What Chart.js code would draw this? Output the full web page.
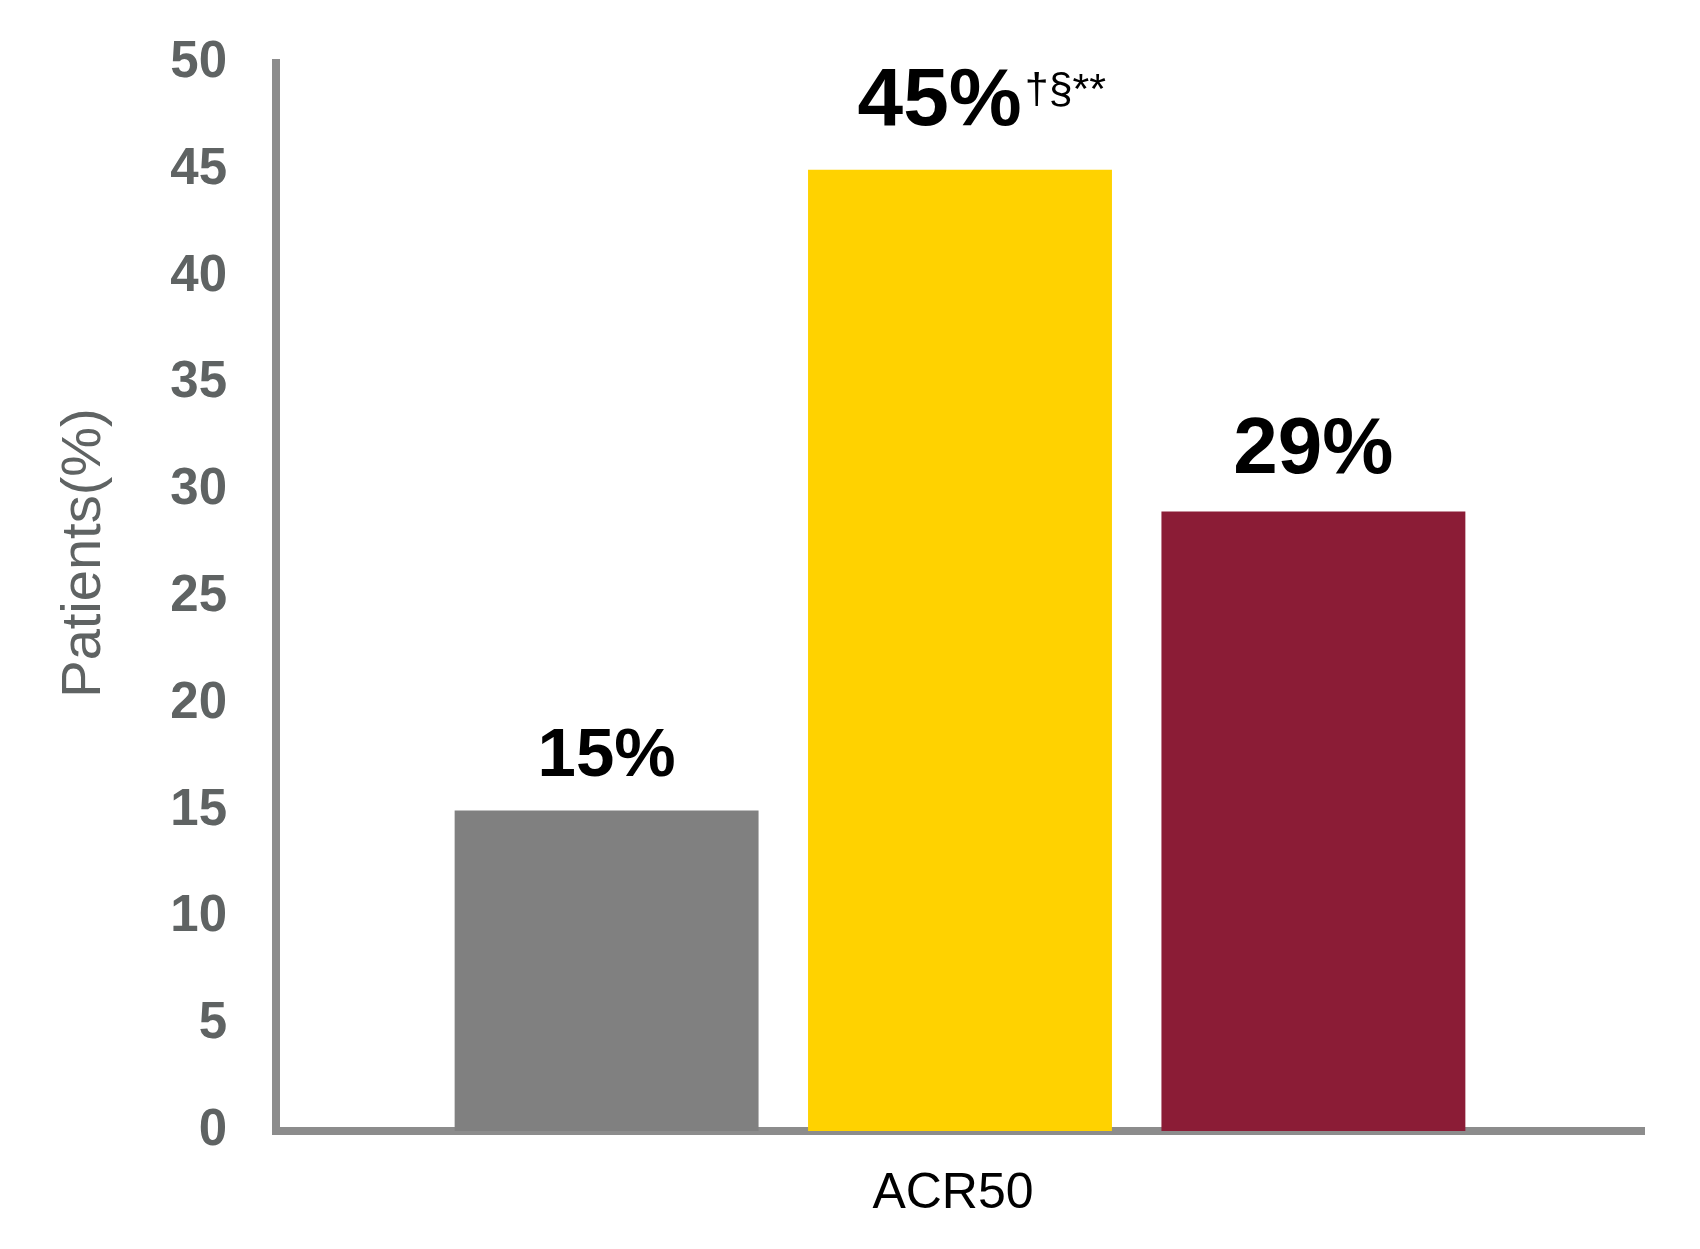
<!DOCTYPE html>
<html>
<head>
<meta charset="utf-8">
<script src="https://cdn.jsdelivr.net/npm/chart.js@4.4.1/dist/chart.umd.min.js"></script>
<style>
  html, body { margin: 0; padding: 0; background: #fff; }
  canvas { display: block; }
</style>
</head>
<body>
<canvas id="grafico" width="1700" height="1249"></canvas>
<script>
// dados
const categorias = ['ACR50'];
const grupos = ['Placebo', 'Tratamento A', 'Tratamento B'];
const valores = [15, 45, 29];
const rotulos = ['15%', '45%', '29%'];
const sobrescritos = ['', '†§**', ''];
const ticksY = [0, 5, 10, 15, 20, 25, 30, 35, 40, 45, 50];

const cores = ['#808080', '#ffd200', '#8b1c36'];
const tamanhoRotulo = [69, 82, 80];
const folgaRotulo = [35, 45, 39];
const FONTE = '"Liberation Sans", Arial, Helvetica, sans-serif';

const rotulosBarras = {
    id: 'rotulosBarras',
    afterDatasetsDraw(chart) {
        const ctx = chart.ctx;
        ctx.save();
        ctx.fillStyle = '#000';
        ctx.textBaseline = 'alphabetic';
        ctx.textAlign = 'left';
        chart.data.datasets.forEach((ds, i) => {
            const barra = chart.getDatasetMeta(i).data[0];
            ctx.font = `bold ${tamanhoRotulo[i]}px ${FONTE}`;
            const w1 = ctx.measureText(rotulos[i]).width;
            const base = barra.y - folgaRotulo[i];
            let w2 = 0;
            if (sobrescritos[i]) {
                ctx.font = `43px ${FONTE}`;
                w2 = ctx.measureText(sobrescritos[i]).width;
            }
            const x0 = barra.x - w1 / 2 - w2 * 0.25;
            ctx.font = `bold ${tamanhoRotulo[i]}px ${FONTE}`;
            ctx.fillText(rotulos[i], x0, base);
            if (sobrescritos[i]) {
                ctx.font = `43px ${FONTE}`;
                ctx.fillText(sobrescritos[i], x0 + w1 + 3, base - 22);
            }
        });
        ctx.restore();
    }
};

// título do eixo Y, um pouco acima do centro como no original
const tituloY = {
    id: 'tituloY',
    afterDraw(chart) {
        const ctx = chart.ctx;
        const area = chart.chartArea;
        ctx.save();
        ctx.translate(100, (area.top + area.bottom) / 2 - 44);
        ctx.rotate(-Math.PI / 2);
        ctx.font = `56px ${FONTE}`;
        ctx.fillStyle = '#5f6363';
        ctx.textAlign = 'center';
        ctx.textBaseline = 'alphabetic';
        ctx.fillText('Patients(%)', 0, 0);
        ctx.restore();
    }
};

new Chart(document.getElementById('grafico').getContext('2d'), {
    type: 'bar',
    data: {
        labels: categorias,
        datasets: grupos.map((nome, i) => ({
            label: nome,
            data: [valores[i]],
            backgroundColor: cores[i],
            borderWidth: 0,
            categoryPercentage: 0.775,
            barPercentage: 0.86
        }))
    },
    options: {
        responsive: false,
        devicePixelRatio: 1,
        animation: false,
        layout: { padding: { top: 63, right: 56, bottom: 0, left: 0 } },
        plugins: {
            legend: { display: false },
            tooltip: { enabled: false }
        },
        scales: {
            x: {
                grid: { display: false, drawTicks: false },
                border: { display: true, color: '#8c8c8c', width: 8 },
                ticks: {
                    color: '#000',
                    font: { family: FONTE, size: 50 },
                    padding: 33,
                    labelOffset: -7
                },
                afterFit(scale) {
                    scale.height = 1249 - 1131;
                    scale.paddingLeft = 0;
                    scale.paddingRight = 0;
                }
            },
            y: {
                min: 0,
                max: 50,
                afterBuildTicks(scale) { scale.ticks = ticksY.map(v => ({ value: v })); },
                grid: { display: false, drawTicks: false },
                border: { display: true, color: '#8c8c8c', width: 8 },
                ticks: {
                    color: '#5f6363',
                    font: { family: FONTE, size: 51, weight: 'bold' },
                    padding: 49
                },
                afterFit(scale) {
                    scale.width = 276;
                    scale.paddingTop = 0;
                    scale.paddingBottom = 0;
                }
            }
        }
    },
    plugins: [rotulosBarras, tituloY]
});
</script>
</body>
</html>
